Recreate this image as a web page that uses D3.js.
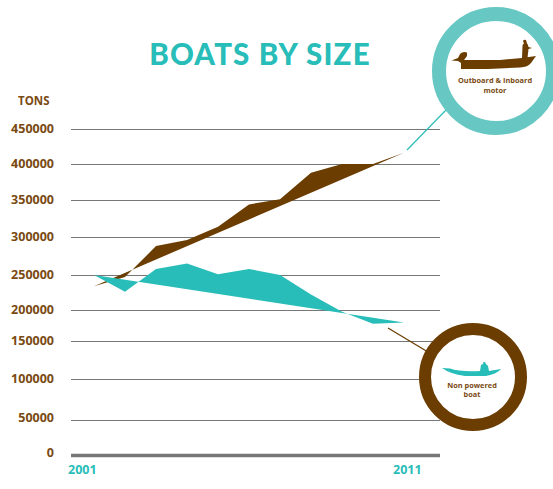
<!DOCTYPE html>
<html>
<head>
<meta charset="utf-8">
<script src="https://cdn.jsdelivr.net/npm/d3@7"></script>
<style>
  html, body { margin: 0; padding: 0; background: #fff; }
  svg { display: block; }
  text { font-family: "Open Sans", sans-serif; font-weight: 700; }
</style>
</head>
<body>
<div id="chart"></div>
<script>
const years = [2001, 2002, 2003, 2004, 2005, 2006, 2007, 2008, 2009, 2010, 2011];
const outboardTons = [234000, 247000, 288000, 296000, 314000, 344000, 351000, 388000, 400000, 400000, 416000];
const nonPoweredTons = [250000, 226000, 258000, 265000, 251000, 258000, 250000, 222000, 197000, 178000, 180000];
const tickValues = [0, 50000, 100000, 150000, 200000, 250000, 300000, 350000, 400000, 450000];
const xLabels = [2001, 2011];

const brown = "#6b3d00", brownText = "#7a4a12", teal = "#28bdb8", ring = "#66c7c3", grid = "#777777";

const svg = d3.select("#chart").append("svg").attr("width", 553).attr("height", 489);

// The printed axis spaces its gridlines unevenly, so y is piecewise linear between ticks.
const tickPixels = [455, 420, 379, 341, 310, 275, 237, 200, 164, 129];
const y = d3.scaleLinear().domain(tickValues).range(tickPixels);
const x = d3.scaleLinear().domain([2001, 2011]).range([94, 404]);

svg.append("text").attr("x", 260).attr("y", 65).attr("text-anchor", "middle")
  .style("font-family", "Lato, sans-serif").style("font-weight", 900)
  .attr("font-size", 29.5).attr("letter-spacing", 1.15).attr("fill", teal).text("BOATS BY SIZE");

// Gridlines and tick labels come from the axis generator.
const yAxis = svg.append("g").attr("transform", "translate(71,0)")
  .call(d3.axisRight(y).tickValues(tickValues).tickSize(369).tickFormat(d3.format("d")));
yAxis.select(".domain").remove();
yAxis.selectAll(".tick line")
  .attr("stroke", grid)
  .attr("stroke-width", d => d === 0 ? 3.5 : 1.2);
yAxis.selectAll(".tick text")
  .attr("x", -17).attr("dy", d => d === 0 ? "0.15em" : d === 50000 ? "0.1em" : "0.28em")
  .attr("text-anchor", "end")
  .attr("font-size", 12.5).attr("fill", brownText);

svg.append("text").attr("x", 18).attr("y", 105).attr("font-size", 11.5)
  .attr("fill", brownText).text("TONS");

// Start and end labels sit to the left of their years' marks.
svg.selectAll(".year").data(xLabels).join("text").attr("class", "year")
  .attr("x", d => x(d) - (d === 2001 ? 26 : 11))
  .attr("y", 474).attr("font-size", 12.5).attr("fill", teal).text(d => d);

// Each series is a closed outline: the yearly path returns straight to its start.
const shape = d3.line().x((d, i) => x(years[i])).y(d => y(d)).curve(d3.curveLinearClosed);
svg.append("path").datum(outboardTons).attr("d", shape).attr("fill", brown);
svg.append("path").datum(nonPoweredTons).attr("d", shape).attr("fill", teal);

// Leader lines tying each series to its badge.
svg.append("line").attr("x1", 407).attr("y1", 150).attr("x2", 446).attr("y2", 110)
  .attr("stroke", teal).attr("stroke-width", 1.2);
svg.append("line").attr("x1", 388).attr("y1", 328).attr("x2", 428).attr("y2", 352)
  .attr("stroke", brown).attr("stroke-width", 1.2);

// Badges.
svg.append("circle").attr("cx", 496).attr("cy", 71).attr("r", 57)
  .attr("fill", "#fff").attr("stroke", ring).attr("stroke-width", 14);
svg.append("circle").attr("cx", 473).attr("cy", 377).attr("r", 48)
  .attr("fill", "#fff").attr("stroke", brown).attr("stroke-width", 12);

// Motor boat with standing figure.
svg.append("path").attr("fill", brown).attr("d",
  "M461,60 L500,60 L522,58 L536,56 L531,63 Q528,67 520,67.5 L488,69 L461,69 Z " +
  "M451.5,60.5 L458,58 L460,54 Q463,51 467,52.5 L467,56 L464,60 L461,63 L458,61 Z " +
  "M522,58 L522.5,46 Q522.5,44 524,43.5 L523,41 Q524,39 526,40 L527,43.5 Q528,44 528.5,47 L532,48 L528.5,49 L527.5,58 Z");
// Low canoe with seated figure.
svg.append("path").attr("fill", teal).attr("d",
  "M442,368 L450,368.5 Q460,372 480,371 L481,365 L483,364 L483.5,362 L485,362 L486,364 L488,366 L489,371 L501,369 Q497,374 486,376 L465,376 Q450,374 442,368 Z");

const caption = (lines, cx, y0, lh, size) => svg.selectAll(null).data(lines).join("text")
  .attr("x", cx).attr("y", (d, i) => y0 + i * lh).attr("text-anchor", "middle")
  .attr("font-size", size).attr("fill", brownText).text(d => d);
caption(["Outboard & Inboard", "motor"], 495, 83, 10, 7.4);
caption(["Non powered", "boat"], 472, 388, 9, 7.4);
</script>
</body>
</html>
